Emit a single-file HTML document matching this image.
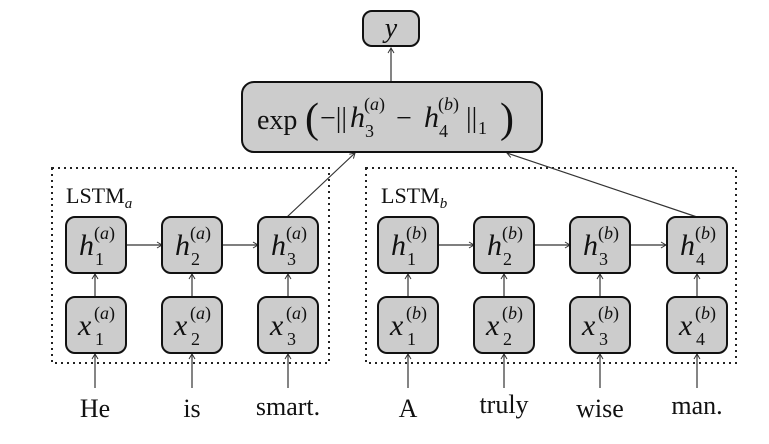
<!DOCTYPE html>
<html><head><meta charset="utf-8"><style>
html,body{margin:0;padding:0;background:#fff;}
svg{display:block}
.m{font-family:"Liberation Serif",serif;font-style:italic;}
.r{font-family:"Liberation Serif",serif;font-style:normal;}
</style></head><body>
<svg width="769" height="444" viewBox="0 0 769 444" xmlns="http://www.w3.org/2000/svg">
<defs>
<marker id="a" markerWidth="8" markerHeight="8" refX="6" refY="4" orient="auto" markerUnits="userSpaceOnUse">
<path d="M1,1 L6,4 L1,7" fill="none" stroke="#333" stroke-width="1"/>
</marker>
</defs>
<g fill="none" stroke="#222" stroke-width="2" stroke-dasharray="2,4">
<rect x="52" y="168" width="277" height="195"/>
<rect x="366" y="168" width="370" height="195"/>
</g>
<g stroke="#333" stroke-width="1.2" fill="none" marker-end="url(#a)">
<line x1="391" y1="82" x2="391" y2="48"/>
<line x1="287" y1="217" x2="355" y2="153"/>
<line x1="697" y1="217" x2="507" y2="153"/>
<line x1="126" y1="245" x2="162" y2="245"/>
<line x1="222" y1="245" x2="258" y2="245"/>
<line x1="437" y1="245" x2="474" y2="245"/>
<line x1="534" y1="245" x2="570" y2="245"/>
<line x1="630" y1="245" x2="666" y2="245"/>
<line x1="95" y1="297" x2="95" y2="274"/>
<line x1="192" y1="297" x2="192" y2="274"/>
<line x1="288" y1="297" x2="288" y2="274"/>
<line x1="408" y1="297" x2="408" y2="274"/>
<line x1="504" y1="297" x2="504" y2="274"/>
<line x1="600" y1="297" x2="600" y2="274"/>
<line x1="697" y1="297" x2="697" y2="274"/>
<line x1="95" y1="388" x2="95" y2="354"/>
<line x1="192" y1="388" x2="192" y2="354"/>
<line x1="288" y1="388" x2="288" y2="354"/>
<line x1="408" y1="388" x2="408" y2="354"/>
<line x1="504" y1="388" x2="504" y2="354"/>
<line x1="600" y1="388" x2="600" y2="354"/>
<line x1="697" y1="388" x2="697" y2="354"/>
</g>
<g fill="#cccccc" stroke="#111" stroke-width="2">
<rect x="363" y="11" width="56" height="35" rx="9"/>
<rect x="242" y="82" width="300" height="70" rx="12"/>
<rect x="66" y="217" width="60" height="56" rx="9"/>
<rect x="162" y="217" width="60" height="56" rx="9"/>
<rect x="258" y="217" width="60" height="56" rx="9"/>
<rect x="378" y="217" width="60" height="56" rx="9"/>
<rect x="474" y="217" width="60" height="56" rx="9"/>
<rect x="570" y="217" width="60" height="56" rx="9"/>
<rect x="667" y="217" width="60" height="56" rx="9"/>
<rect x="66" y="297" width="60" height="56" rx="9"/>
<rect x="162" y="297" width="60" height="56" rx="9"/>
<rect x="258" y="297" width="60" height="56" rx="9"/>
<rect x="378" y="297" width="60" height="56" rx="9"/>
<rect x="474" y="297" width="60" height="56" rx="9"/>
<rect x="570" y="297" width="60" height="56" rx="9"/>
<rect x="667" y="297" width="60" height="56" rx="9"/>
</g>
<g fill="#111">
<text x="391" y="37" class="m" font-size="28" text-anchor="middle">y</text>
<text x="257" y="129" class="r" font-size="28">exp</text>
<text x="305" y="132" class="r" font-size="42">(</text>
<text x="320" y="127" class="r" font-size="28">−||</text>
<text x="350" y="127" class="m" font-size="30">h</text>
<text x="365" y="137" class="r" font-size="18">3</text>
<text x="364" y="110" class="r" font-size="18">(<tspan class="m">a</tspan>)</text>
<text x="396" y="127" class="r" font-size="28">−</text>
<text x="424" y="127" class="m" font-size="30">h</text>
<text x="439" y="137" class="r" font-size="18">4</text>
<text x="438" y="110" class="r" font-size="18">(<tspan class="m">b</tspan>)</text>
<text x="466" y="127" class="r" font-size="28">||</text>
<text x="478" y="134" class="r" font-size="18">1</text>
<text x="500" y="132" class="r" font-size="42">)</text>
<text x="66" y="203" class="r" font-size="22">LSTM<tspan class="m" font-size="15" dy="5">a</tspan></text>
<text x="381" y="203" class="r" font-size="22">LSTM<tspan class="m" font-size="15" dy="5">b</tspan></text>
</g>
<g fill="#111" font-size="30" class="m">
<text x="79" y="255">h</text><text x="94" y="239" class="r" font-size="18">(<tspan class="m">a</tspan>)</text><text x="95" y="265" class="r" font-size="18">1</text>
<text x="175" y="255">h</text><text x="190" y="239" class="r" font-size="18">(<tspan class="m">a</tspan>)</text><text x="191" y="265" class="r" font-size="18">2</text>
<text x="271" y="255">h</text><text x="286" y="239" class="r" font-size="18">(<tspan class="m">a</tspan>)</text><text x="287" y="265" class="r" font-size="18">3</text>
<text x="391" y="255">h</text><text x="406" y="239" class="r" font-size="18">(<tspan class="m">b</tspan>)</text><text x="407" y="265" class="r" font-size="18">1</text>
<text x="487" y="255">h</text><text x="502" y="239" class="r" font-size="18">(<tspan class="m">b</tspan>)</text><text x="503" y="265" class="r" font-size="18">2</text>
<text x="583" y="255">h</text><text x="598" y="239" class="r" font-size="18">(<tspan class="m">b</tspan>)</text><text x="599" y="265" class="r" font-size="18">3</text>
<text x="680" y="255">h</text><text x="695" y="239" class="r" font-size="18">(<tspan class="m">b</tspan>)</text><text x="696" y="265" class="r" font-size="18">4</text>
<text x="78" y="335">x</text><text x="94" y="319" class="r" font-size="18">(<tspan class="m">a</tspan>)</text><text x="95" y="345" class="r" font-size="18">1</text>
<text x="174" y="335">x</text><text x="190" y="319" class="r" font-size="18">(<tspan class="m">a</tspan>)</text><text x="191" y="345" class="r" font-size="18">2</text>
<text x="270" y="335">x</text><text x="286" y="319" class="r" font-size="18">(<tspan class="m">a</tspan>)</text><text x="287" y="345" class="r" font-size="18">3</text>
<text x="390" y="335">x</text><text x="406" y="319" class="r" font-size="18">(<tspan class="m">b</tspan>)</text><text x="407" y="345" class="r" font-size="18">1</text>
<text x="486" y="335">x</text><text x="502" y="319" class="r" font-size="18">(<tspan class="m">b</tspan>)</text><text x="503" y="345" class="r" font-size="18">2</text>
<text x="582" y="335">x</text><text x="598" y="319" class="r" font-size="18">(<tspan class="m">b</tspan>)</text><text x="599" y="345" class="r" font-size="18">3</text>
<text x="679" y="335">x</text><text x="695" y="319" class="r" font-size="18">(<tspan class="m">b</tspan>)</text><text x="696" y="345" class="r" font-size="18">4</text>
</g>
<g fill="#111" class="r" font-size="26" text-anchor="middle">
<text x="95" y="417">He</text>
<text x="192" y="417">is</text>
<text x="288" y="415">smart.</text>
<text x="408" y="417">A</text>
<text x="504" y="413">truly</text>
<text x="600" y="417">wise</text>
<text x="697" y="414">man.</text>
</g>
</svg>
</body></html>
